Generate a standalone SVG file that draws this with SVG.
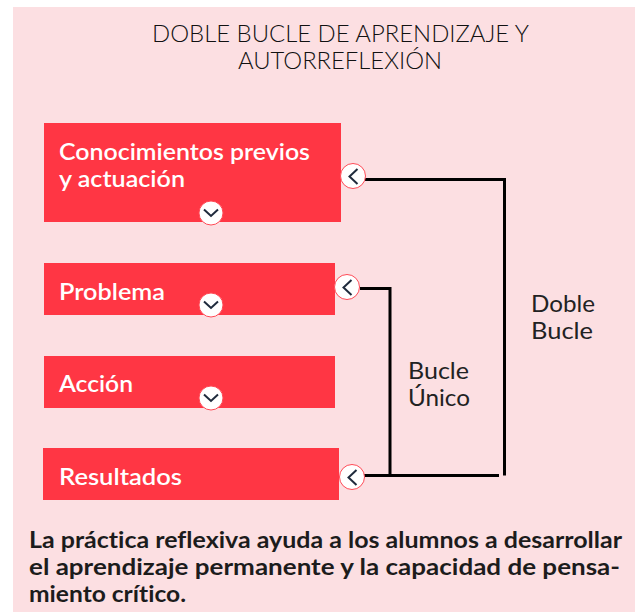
<svg xmlns="http://www.w3.org/2000/svg" width="635" height="612" viewBox="0 0 635 612">
<style>
text{font-family:"Lato","Noto Sans",sans-serif;font-variant-ligatures:none}
.t{font-size:23px;font-weight:300;fill:#111}
.n{font-size:23px;font-weight:600;fill:#fff}
.l{font-size:23px;font-weight:400;fill:#222}
.b{font-size:22px;font-weight:700;fill:#1c1c1c}
.box{fill:#ff3644}
.c{fill:#fff;stroke:#ff4a56;stroke-width:1}
.ch{fill:none;stroke:#1f2a3c;stroke-width:2}
.w{fill:none;stroke:#000;stroke-width:3}
</style>
<rect x="13" y="7" width="622" height="605" fill="#fcdfe2"/>
<g id="title">
<text class="t" x="152" y="42" textLength="377" lengthAdjust="spacingAndGlyphs">DOBLE BUCLE DE APRENDIZAJE Y</text>
<text class="t" x="238" y="69" textLength="204" lengthAdjust="spacingAndGlyphs">AUTORREFLEXIÓN</text>
</g>
<g id="connectors">
<path class="w" d="M365 179.500H504.500V475.500"/>
<path class="w" d="M360 288.500H390V475"/>
<path class="w" d="M364 475.500H499"/>
</g>
<g id="node-conocimientos">
<rect class="box" x="44" y="123" width="297" height="99"/>
<text class="n" x="59" y="160" textLength="251" lengthAdjust="spacingAndGlyphs">Conocimientos previos</text>
<text class="n" x="59" y="187" textLength="126" lengthAdjust="spacingAndGlyphs">y actuación</text>
<circle class="c" cx="211" cy="213" r="12"/><path class="ch" d="M204 209.500L211 216L218 209.500"/>
<circle class="c" cx="353" cy="176" r="12.500"/><path class="ch" d="M357.500 169L349.500 176.500L357.500 184"/>
</g>
<g id="node-problema">
<rect class="box" x="44" y="263" width="291" height="52"/>
<text class="n" x="59" y="300" textLength="106" lengthAdjust="spacingAndGlyphs">Problema</text>
<circle class="c" cx="211" cy="305" r="12"/><path class="ch" d="M204 301.500L211 308L218 301.500"/>
<circle class="c" cx="347" cy="287" r="12.500"/><path class="ch" d="M351.500 280L343.500 287.500L351.500 295"/>
</g>
<g id="node-accion">
<rect class="box" x="44" y="356" width="291" height="52"/>
<text class="n" x="59" y="392" textLength="74" lengthAdjust="spacingAndGlyphs">Acción</text>
<circle class="c" cx="211" cy="398" r="12"/><path class="ch" d="M204 394.500L211 401L218 394.500"/>
</g>
<g id="node-resultados">
<rect class="box" x="43" y="448" width="296" height="52"/>
<text class="n" x="59" y="485" textLength="123" lengthAdjust="spacingAndGlyphs">Resultados</text>
<circle class="c" cx="352" cy="477" r="12.500"/><path class="ch" d="M356.500 470L348.500 477.500L356.500 485"/>
</g>
<g id="label-unico">
<text class="l" x="408" y="379" textLength="61" lengthAdjust="spacingAndGlyphs">Bucle</text>
<text class="l" x="408" y="406" textLength="62" lengthAdjust="spacingAndGlyphs">Único</text>
</g>
<g id="label-doble">
<text class="l" x="531" y="312" textLength="64" lengthAdjust="spacingAndGlyphs">Doble</text>
<text class="l" x="531" y="339" textLength="62" lengthAdjust="spacingAndGlyphs">Bucle</text>
</g>
<g id="caption">
<text class="b" x="29" y="548" textLength="593" lengthAdjust="spacingAndGlyphs">La práctica reflexiva ayuda a los alumnos a desarrollar</text>
<text class="b" x="29" y="575" textLength="591" lengthAdjust="spacingAndGlyphs">el aprendizaje permanente y la capacidad de pensa-</text>
<text class="b" x="29" y="602" textLength="157" lengthAdjust="spacingAndGlyphs">miento crítico.</text>
</g>
</svg>
